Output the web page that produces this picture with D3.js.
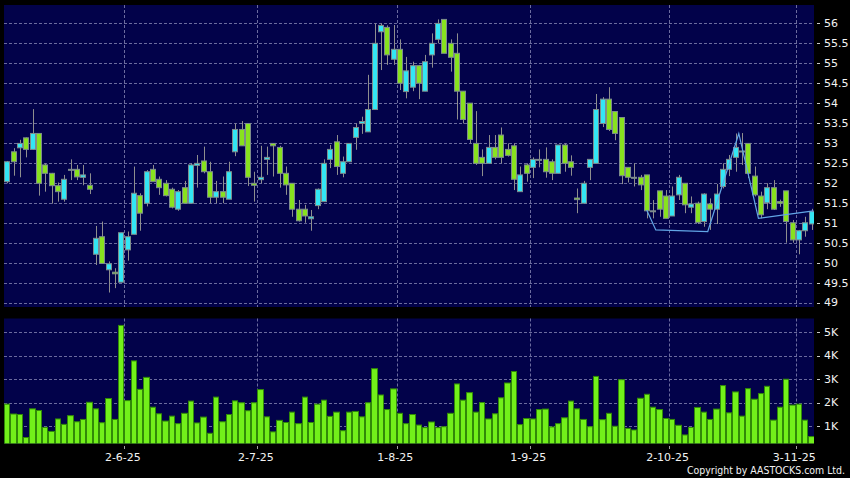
<!DOCTYPE html>
<html>
<head>
<meta charset="utf-8">
<script src="https://cdn.jsdelivr.net/npm/d3@7"></script>
<style>
  html, body { margin: 0; padding: 0; background: #000; }
  svg { display: block; }
</style>
</head>
<body>
<div id="chart"></div>
<script>
// daily bars, 6-5-25 .. 5-11-25 (one entry per trading day)
const openP = [52.03,52.78,52.88,53.13,52.84,53.24,52.45,52.24,51.93,51.59,
  52.34,52.34,52.14,51.94,50.21,50.65,49.82,49.76,49.51,50.32,
  50.71,51.68,51.49,52.34,52.09,51.99,51.84,51.34,51.88,51.49,
  52.44,52.55,52.28,51.64,51.78,51.59,52.78,53.34,53.49,51.99,
  52.08,52.59,52.99,52.89,52.24,51.99,51.34,51.34,51.10,51.43,
  51.53,52.59,53.03,52.24,52.53,53.14,53.49,53.28,53.84,55.79,
  55.90,55.10,55.35,54.29,54.40,54.94,54.30,55.21,55.60,56.10,
  55.50,55.25,54.30,54.00,52.99,52.64,52.49,52.89,53.20,52.84,
  52.93,51.78,52.45,52.39,52.59,52.59,52.53,52.24,52.95,52.53,
  51.62,51.49,52.39,52.49,53.49,54.10,53.79,53.64,52.39,52.14,
  52.14,52.20,51.30,51.80,51.67,51.17,51.70,51.99,51.39,51.49,
  51.03,51.47,51.34,51.91,52.34,52.64,52.80,52.99,52.17,51.67,
  51.50,51.88,51.53,51.80,51.00,50.57,50.80,50.97];
const highP = [52.55,52.87,53.08,53.14,53.85,53.24,52.49,52.25,52.01,52.20,
  52.59,52.45,52.45,52.24,50.92,51.03,50.03,49.86,50.75,50.78,
  52.41,51.74,52.32,52.45,52.16,52.07,51.88,51.82,52.05,52.49,
  52.70,52.91,52.53,52.05,52.16,52.53,53.49,53.55,53.49,52.28,
  52.93,52.91,52.99,52.93,52.41,51.99,51.57,51.45,51.32,51.86,
  52.59,52.95,53.20,52.66,52.99,53.49,53.66,54.71,56.00,56.00,
  55.95,55.96,55.60,55.16,55.04,54.96,55.21,55.75,56.10,56.10,
  55.60,55.75,54.30,54.00,53.80,52.84,53.20,53.20,53.39,52.99,
  52.99,52.41,52.49,52.64,52.84,52.89,52.59,52.95,52.99,52.69,
  51.86,52.05,52.59,54.23,54.15,54.40,53.79,53.64,52.39,52.49,
  52.20,52.20,51.57,51.80,51.82,51.91,52.20,51.99,51.66,51.53,
  51.74,51.61,51.97,52.49,52.70,53.24,53.25,52.99,52.41,51.78,
  51.99,52.07,51.58,51.80,51.07,50.82,51.15,51.35];
const lowP = [51.99,52.18,52.14,52.64,52.83,51.68,51.78,51.48,51.53,51.53,
  52.07,52.07,51.94,51.72,49.94,49.98,49.25,49.36,49.51,50.05,
  50.71,50.80,51.41,52.03,51.70,51.66,51.36,51.30,51.47,51.49,
  51.88,52.24,51.49,51.49,51.49,51.59,52.67,52.93,51.92,51.53,
  51.99,52.20,52.16,51.88,51.70,51.15,51.03,51.00,50.80,51.34,
  51.53,52.37,52.20,52.14,52.53,52.83,53.23,53.28,53.84,54.83,
  54.96,54.96,54.33,54.12,54.30,54.10,54.30,54.89,55.50,55.25,
  54.79,53.59,53.49,52.99,52.45,52.17,52.49,52.59,52.49,52.66,
  51.82,51.78,52.03,52.12,52.39,52.13,52.07,52.24,52.28,52.18,
  51.24,51.49,52.07,52.49,53.40,53.30,53.07,51.97,52.01,51.91,
  51.82,51.11,51.11,51.15,51.11,51.17,51.57,51.24,51.24,50.97,
  50.90,50.82,50.97,51.86,52.17,52.28,52.45,52.12,51.66,51.11,
  51.34,51.32,51.40,50.50,50.50,50.21,50.65,50.82];
const closeP = [52.53,52.53,52.99,52.84,53.24,51.99,52.24,51.93,51.78,52.09,
  52.34,52.15,52.20,51.84,50.61,49.98,49.97,49.72,50.75,50.65,
  51.74,51.24,52.28,52.03,51.88,51.68,51.39,51.78,51.49,52.45,
  52.49,52.28,51.64,51.78,51.64,52.28,53.34,52.93,52.14,51.94,
  52.14,52.64,52.93,52.24,51.95,51.34,51.05,51.17,51.15,51.84,
  52.49,52.84,52.41,52.53,52.99,53.39,53.54,53.84,55.50,55.95,
  55.21,55.35,54.50,54.81,54.94,54.50,55.04,55.50,56.00,55.25,
  55.15,54.30,53.59,53.09,52.49,52.49,52.89,52.64,52.64,52.69,
  52.09,52.20,52.24,52.59,52.59,52.28,52.24,52.95,52.49,52.39,
  51.58,51.99,52.59,53.84,54.10,53.34,53.24,52.18,52.14,52.14,
  51.95,51.30,51.30,51.34,51.11,51.67,52.14,51.45,51.47,51.01,
  51.72,51.34,51.72,52.34,52.59,52.89,52.78,52.24,51.70,51.20,
  51.88,51.34,51.49,51.03,50.57,50.80,51.00,51.28];
// volume in thousands
const volumeK = [1.93,1.51,1.49,0.51,1.73,1.66,0.94,0.77,1.30,1.07,
  1.44,1.18,1.28,2.01,1.73,1.14,2.17,1.28,5.28,2.08,
  3.77,2.56,3.07,1.80,1.52,1.21,1.42,1.10,1.54,2.06,
  1.13,1.38,0.69,2.23,1.18,1.49,2.07,1.99,1.65,1.99,
  2.55,1.39,0.75,1.24,1.15,1.59,1.10,2.23,1.15,1.93,
  2.10,1.41,1.59,0.80,1.59,1.62,1.39,1.99,3.44,2.32,
  1.70,2.58,1.54,1.10,1.49,1.04,0.93,1.17,0.93,0.97,
  1.54,2.79,2.10,2.42,1.59,2.00,1.30,1.52,2.20,2.83,
  3.32,1.06,1.32,1.30,1.70,1.72,0.96,1.10,1.35,2.06,
  1.73,1.28,0.97,3.11,1.27,1.54,0.99,2.97,0.90,0.83,
  2.18,2.35,1.80,1.70,1.32,1.28,1.03,0.62,0.94,1.79,
  1.59,1.28,1.72,2.72,1.56,2.45,1.42,2.59,2.14,2.38,
  2.69,1.25,1.80,2.99,1.89,1.93,1.25,0.55];

// first trading day of each month (bar index) and its label
const monthIdx = [19, 40, 62, 83, 105, 125];
const monthLabels = ['2-6-25', '2-7-25', '1-8-25', '1-9-25', '2-10-25', '3-11-25'];

const priceTicks = [49, 49.5, 50, 50.5, 51, 51.5, 52, 52.5, 53, 53.5, 54, 54.5, 55, 55.5, 56];
const volTicks = [1, 2, 3, 4, 5];
const volTickLabels = ['1K', '2K', '3K', '4K', '5K'];

// pattern outline drawn on the chart (bar index, price)
const patternIdx = [100.96, 102.4, 110.6, 115.5, 118.6, 127.3];
const patternVal = [51.32, 50.82, 50.78, 53.24, 51.11, 51.30];

const width = 850, height = 478;
const panelL = 4, panelR = 814;
const mainTop = 5, mainBot = 307;
const volTop = 318.5, volBot = 443.5;

const colors = {
  bg: '#02024a',
  grid: '#6b6b9e',
  up: '#33e6f4',
  down: '#88e21e',
  edge: '#7d8c8c',
  wick: '#8e8e8e',
  vol: '#72f01a',
  volEdge: '#318a08',
  text: '#f2f2f2',
  pattern: '#62a6e6'
};

const n = openP.length;

const x = d3.scaleBand()
  .domain(d3.range(n))
  .range([4.03, 814.8]);
const step = x.step();
const cx = i => x(i) + step / 2;
const xIdx = d3.scaleLinear().domain([0, n - 1]).range([cx(0), cx(n - 1)]);

const y = d3.scaleLinear().domain([49, 56]).range([302.5, 23.4]);
const yv = d3.scaleLinear().domain([1, 5]).range([426, 332]);

const svg = d3.select('#chart').append('svg')
  .attr('width', width)
  .attr('height', height)
  .style('background', '#000');

const defs = svg.append('defs');
defs.append('clipPath').attr('id', 'clipMain')
  .append('rect').attr('x', panelL).attr('y', mainTop)
  .attr('width', panelR - panelL).attr('height', mainBot - mainTop);
defs.append('clipPath').attr('id', 'clipVol')
  .append('rect').attr('x', panelL).attr('y', volTop)
  .attr('width', panelR - panelL).attr('height', volBot - volTop);

// panels
svg.append('rect')
  .attr('x', panelL).attr('y', mainTop)
  .attr('width', panelR - panelL).attr('height', mainBot - mainTop)
  .attr('fill', colors.bg);
svg.append('rect')
  .attr('x', panelL).attr('y', volTop)
  .attr('width', panelR - panelL).attr('height', volBot - volTop)
  .attr('fill', colors.bg);

// grid
const grid = svg.append('g')
  .attr('stroke', colors.grid)
  .attr('stroke-width', 1)
  .attr('stroke-dasharray', '3,2');

grid.selectAll('line.hp').data(priceTicks).join('line')
  .attr('class', 'hp')
  .attr('x1', panelL).attr('x2', panelR)
  .attr('y1', d => Math.round(y(d)) + 0.5)
  .attr('y2', d => Math.round(y(d)) + 0.5);

grid.selectAll('line.hv').data(volTicks).join('line')
  .attr('class', 'hv')
  .attr('x1', panelL).attr('x2', panelR)
  .attr('y1', d => Math.round(yv(d)) + 0.5)
  .attr('y2', d => Math.round(yv(d)) + 0.5);

const vx = i => Math.round(x(i)) + 0.5;
grid.selectAll('line.vm').data(monthIdx).join('line')
  .attr('class', 'vm')
  .attr('x1', vx).attr('x2', vx)
  .attr('y1', mainTop).attr('y2', mainBot);
grid.selectAll('line.vv').data(monthIdx).join('line')
  .attr('class', 'vv')
  .attr('x1', vx).attr('x2', vx)
  .attr('y1', volTop).attr('y2', volBot);

// candles
const main = svg.append('g').attr('clip-path', 'url(#clipMain)');
const candle = main.selectAll('g.candle').data(d3.range(n)).join('g')
  .attr('class', 'candle');

const left = i => Math.round(cx(i) - 3);

candle.append('line')
  .attr('x1', i => left(i) + 3.5)
  .attr('x2', i => left(i) + 3.5)
  .attr('y1', i => y(highP[i]))
  .attr('y2', i => y(lowP[i]))
  .attr('stroke', colors.wick)
  .attr('stroke-width', 1);

candle.append('rect')
  .attr('x', i => left(i) + 0.5)
  .attr('width', 5)
  .attr('y', i => y(Math.max(openP[i], closeP[i])))
  .attr('height', i => Math.max(1, Math.abs(y(openP[i]) - y(closeP[i]))))
  .attr('fill', i => closeP[i] > openP[i] ? colors.up : (closeP[i] < openP[i] ? colors.down : colors.wick))
  .attr('stroke', colors.edge)
  .attr('stroke-width', 1);

// pattern outline
const line = d3.line()
  .x(d => xIdx(d[0]))
  .y(d => y(d[1]));
main.append('path')
  .datum(d3.zip(patternIdx, patternVal))
  .attr('d', line)
  .attr('fill', 'none')
  .attr('stroke', colors.pattern)
  .attr('stroke-width', 1.2);

// volume bars
const volG = svg.append('g').attr('clip-path', 'url(#clipVol)');
volG.selectAll('rect').data(d3.range(n)).join('rect')
  .attr('x', i => Math.round(x(i)) + 0.5)
  .attr('width', i => Math.round(x(i) + step) - Math.round(x(i)) - 1)
  .attr('y', i => yv(volumeK[i]))
  .attr('height', i => volBot + 2 - yv(volumeK[i]))
  .attr('fill', colors.vol)
  .attr('stroke', colors.volEdge)
  .attr('stroke-width', 1);

// right axis
const axisR = svg.append('g')
  .attr('font-family', 'DejaVu Sans, Verdana, sans-serif')
  .attr('font-size', 11)
  .attr('fill', colors.text);

axisR.selectAll('line.tp').data(priceTicks).join('line')
  .attr('class', 'tp')
  .attr('x1', 817).attr('x2', 820)
  .attr('y1', d => Math.round(y(d)) + 0.5).attr('y2', d => Math.round(y(d)) + 0.5)
  .attr('stroke', '#c8c8c8');
axisR.selectAll('text.tp').data(priceTicks).join('text')
  .attr('class', 'tp')
  .attr('x', 824)
  .attr('y', d => y(d))
  .attr('dy', '0.36em')
  .text(d => d3.format('~g')(d));

axisR.selectAll('line.tv').data(volTicks).join('line')
  .attr('class', 'tv')
  .attr('x1', 817).attr('x2', 820)
  .attr('y1', d => Math.round(yv(d)) + 0.5).attr('y2', d => Math.round(yv(d)) + 0.5)
  .attr('stroke', '#c8c8c8');
axisR.selectAll('text.tv').data(volTicks).join('text')
  .attr('class', 'tv')
  .attr('x', 824)
  .attr('y', d => yv(d))
  .attr('dy', '0.36em')
  .text((d, k) => volTickLabels[k]);

// bottom axis
const axisB = svg.append('g')
  .attr('font-family', 'DejaVu Sans, Verdana, sans-serif')
  .attr('font-size', 11)
  .attr('fill', colors.text);
axisB.selectAll('line').data(monthIdx).join('line')
  .attr('x1', vx).attr('x2', vx)
  .attr('y1', 446).attr('y2', 449)
  .attr('stroke', '#a0a0a0');
axisB.selectAll('text').data(monthIdx).join('text')
  .attr('x', i => x(i) - 1.5)
  .attr('y', 461)
  .attr('text-anchor', 'middle')
  .text((d, k) => monthLabels[k]);

svg.append('text')
  .attr('x', 845)
  .attr('y', 474)
  .attr('text-anchor', 'end')
  .attr('font-family', 'DejaVu Sans Condensed, DejaVu Sans, sans-serif')
  .attr('font-size', 10.5)
  .attr('textLength', 158)
  .attr('lengthAdjust', 'spacingAndGlyphs')
  .attr('fill', colors.text)
  .text('Copyright by AASTOCKS.com Ltd.');
</script>
</body>
</html>
